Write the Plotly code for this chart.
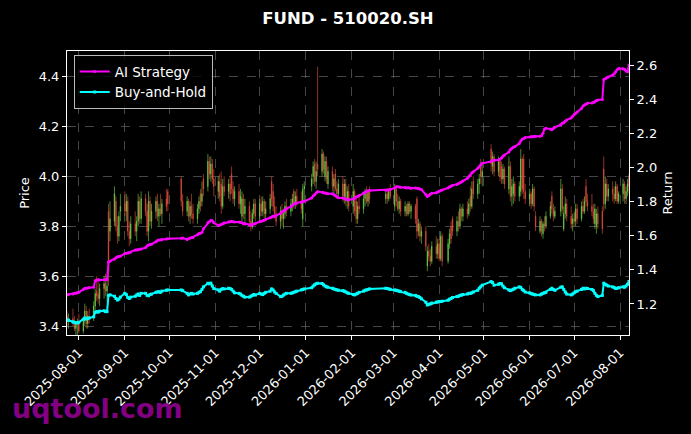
import pandas as pd
import plotly.graph_objects as go

# exchange holidays (no candles on these weekdays)
holidays = [
    "2025-10-01", "2025-10-02", "2025-10-03", "2025-10-06", "2025-10-07", "2025-10-08",
    "2026-01-01", "2026-01-02",
    "2026-02-16", "2026-02-17", "2026-02-18", "2026-02-19", "2026-02-20", "2026-02-23",
    "2026-04-06", "2026-05-01", "2026-05-04", "2026-05-05", "2026-06-19",
]

month_ticks = [
    "2025-08-01", "2025-09-01", "2025-10-01", "2025-11-01", "2025-12-01",
    "2026-01-01", "2026-02-01", "2026-03-01", "2026-04-01", "2026-05-01",
    "2026-06-01", "2026-07-01", "2026-08-01",
]

# daily prices, one line per week
opens = [
    3.44, 3.42,
    3.43, 3.41, 3.39, 3.41, 3.42,
    3.38, 3.42, 3.46, 3.41, 3.44,
    3.43, 3.48, 3.54, 3.53, 3.51,
    3.55, 3.57, 3.54, 3.86, 3.78,
    3.82, 3.90, 3.80, 3.76, 3.86,
    3.89, 3.86, 3.90, 3.78, 3.75,
    3.81, 3.78, 3.82, 3.90, 3.83,
    3.91, 3.86, 3.78, 3.90, 3.82,
    3.86, 3.90, 3.84, 3.87, 3.85,
    3.91, 3.94,
    3.99, 3.90,
    3.86, 3.90, 3.84, 3.88, 3.85,
    3.83, 3.87, 3.93, 3.90, 3.99,
    3.96, 4.06, 4.01, 4.05, 3.99,
    3.94, 3.98, 3.97, 3.88, 3.96,
    3.94, 3.97, 4.01, 3.95, 3.91,
    3.94, 3.89, 3.84, 3.91, 3.85,
    3.88, 3.82, 3.80, 3.85, 3.89,
    3.84, 3.89, 3.86, 3.90, 3.85,
    3.87, 3.98, 3.94, 3.88, 3.85,
    3.82, 3.86, 3.83, 3.85, 3.88,
    3.86, 3.89, 3.94, 3.89, 3.92,
    3.90, 3.83, 3.95,
    3.96, 4.00, 4.05, 3.98, 4.05,
    4.02, 4.09, 4.00, 4.06, 3.97,
    4.02, 3.96, 4.01, 3.95, 3.93,
    3.97, 3.92, 3.97, 3.90, 3.94,
    3.88, 3.94, 3.90, 3.83, 3.88,
    3.87, 3.91, 3.93, 3.90, 3.94,
    3.91, 3.93, 3.91, 3.94,
    3.88, 3.95, 3.90, 3.87, 3.90,
    3.86, 3.88, 3.85, 3.89, 3.86,
    3.88, 3.91, 3.78, 3.81, 3.76,
    3.78, 3.64, 3.70, 3.68, 3.66,
    3.72, 3.69, 3.73, 3.67, 3.76,
    3.66, 3.73, 3.80, 3.83,
    3.78, 3.82, 3.80, 3.87, 3.84,
    3.87, 3.85, 3.92, 3.88, 3.98,
    3.93, 3.97, 4.05, 4.00,
    4.11, 4.04, 4.08,
    4.02, 4.06, 4.04, 3.99, 4.03,
    3.95, 4.04, 3.92, 3.93, 3.97,
    3.92, 3.94, 4.07, 4.07, 3.94,
    3.91, 3.93, 3.89, 3.95, 3.84,
    3.78, 3.82, 3.77, 3.81, 3.80,
    3.84, 3.92, 3.87, 3.84,
    3.86, 3.95, 3.79, 3.85, 3.89,
    3.84, 3.81, 3.83, 3.82, 3.87,
    3.83, 3.88, 3.86, 3.96, 3.90,
    3.88, 3.86, 3.81, 3.80, 3.85,
    3.86, 4.03, 3.89, 3.97, 3.92,
    3.95, 3.93, 3.91, 3.96, 3.90,
    3.93, 3.97, 3.91, 3.94, 4.00,
]
highs = [
    3.46, 3.45,
    3.47, 3.44, 3.42, 3.43, 3.45,
    3.43, 3.49, 3.48, 3.46, 3.47,
    3.50, 3.55, 3.60, 3.59, 3.57,
    3.60, 3.61, 3.58, 3.89, 3.90,
    3.96, 3.92, 3.84, 3.86, 3.93,
    3.94, 3.93, 3.92, 3.82, 3.84,
    3.86, 3.84, 3.93, 3.92, 3.94,
    3.93, 3.89, 3.94, 3.92, 3.89,
    3.92, 3.93, 3.89, 3.93, 3.91,
    3.95, 3.95,
    4.00, 3.93,
    3.92, 3.91, 3.90, 3.93, 3.89,
    3.89, 3.92, 3.95, 3.98, 4.01,
    4.09, 4.08, 4.08, 4.07, 4.03,
    4.00, 4.01, 4.02, 3.99, 4.00,
    3.99, 4.00, 4.04, 3.98, 3.96,
    3.97, 3.95, 3.94, 3.93, 3.91,
    3.90, 3.86, 3.87, 3.91, 3.91,
    3.91, 3.92, 3.92, 3.91, 3.90,
    3.93, 4.00, 3.97, 3.92, 3.88,
    3.88, 3.89, 3.87, 3.90, 3.91,
    3.91, 3.93, 3.95, 3.94, 3.95,
    3.94, 3.97, 3.98,
    4.01, 4.06, 4.07, 4.06, 4.44,
    4.11, 4.10, 4.08, 4.08, 4.04,
    4.04, 4.01, 4.03, 3.98, 3.99,
    4.00, 3.99, 3.99, 3.96, 3.97,
    3.97, 3.95, 3.92, 3.90, 3.92,
    3.93, 3.95, 3.96, 3.95, 3.96,
    3.95, 3.94, 3.95, 3.97,
    3.97, 3.96, 3.93, 3.92, 3.91,
    3.90, 3.89, 3.90, 3.90, 3.89,
    3.89, 3.92, 3.83, 3.82, 3.80,
    3.80, 3.72, 3.73, 3.71, 3.74,
    3.76, 3.75, 3.75, 3.78, 3.77,
    3.75, 3.79, 3.82, 3.84,
    3.84, 3.86, 3.89, 3.88, 3.89,
    3.90, 3.91, 3.96, 3.98, 4.00,
    3.99, 4.01, 4.07, 4.05,
    4.13, 4.10, 4.09,
    4.08, 4.07, 4.06, 4.05, 4.04,
    4.08, 4.06, 3.99, 4.00, 3.98,
    3.98, 4.11, 4.08, 4.09, 3.97,
    3.95, 3.94, 3.97, 3.96, 3.86,
    3.84, 3.83, 3.82, 3.84, 3.86,
    3.90, 3.94, 3.89, 3.88,
    3.99, 3.97, 3.88, 3.92, 3.91,
    3.88, 3.85, 3.86, 3.89, 3.89,
    3.90, 3.91, 3.92, 3.99, 3.93,
    3.93, 3.89, 3.89, 3.87, 3.88,
    3.88, 4.08, 4.00, 3.99, 3.97,
    3.98, 3.96, 3.98, 3.97, 3.94,
    3.99, 3.98, 3.96, 3.99, 4.01,
]
lows = [
    3.40, 3.39,
    3.40, 3.38, 3.36, 3.36, 3.37,
    3.37, 3.40, 3.39, 3.39, 3.41,
    3.42, 3.46, 3.50, 3.49, 3.48,
    3.51, 3.52, 3.50, 3.56, 3.74,
    3.80, 3.78, 3.73, 3.74, 3.82,
    3.84, 3.82, 3.76, 3.72, 3.73,
    3.76, 3.74, 3.80, 3.81, 3.81,
    3.84, 3.76, 3.74, 3.80, 3.79,
    3.83, 3.82, 3.80, 3.84, 3.81,
    3.86, 3.86,
    3.88, 3.84,
    3.84, 3.82, 3.81, 3.83, 3.81,
    3.81, 3.85, 3.86, 3.88, 3.92,
    3.94, 3.99, 3.98, 3.97, 3.92,
    3.91, 3.90, 3.85, 3.87, 3.92,
    3.91, 3.90, 3.93, 3.89, 3.88,
    3.87, 3.85, 3.82, 3.83, 3.81,
    3.80, 3.78, 3.79, 3.83, 3.82,
    3.82, 3.84, 3.84, 3.83, 3.82,
    3.85, 3.88, 3.86, 3.83, 3.80,
    3.79, 3.80, 3.79, 3.83, 3.84,
    3.84, 3.86, 3.87, 3.87, 3.88,
    3.85, 3.80, 3.90,
    3.94, 3.97, 3.96, 3.95, 4.00,
    4.00, 4.01, 3.98, 3.97, 3.95,
    3.94, 3.93, 3.94, 3.91, 3.91,
    3.90, 3.89, 3.88, 3.87, 3.86,
    3.85, 3.84, 3.81, 3.81, 3.85,
    3.85, 3.88, 3.89, 3.88, 3.89,
    3.89, 3.89, 3.90, 3.91,
    3.86, 3.88, 3.86, 3.85, 3.84,
    3.84, 3.84, 3.84, 3.85, 3.83,
    3.81, 3.75, 3.76, 3.74, 3.73,
    3.70, 3.62, 3.66, 3.64, 3.65,
    3.67, 3.67, 3.66, 3.66, 3.64,
    3.65, 3.71, 3.73, 3.76,
    3.76, 3.78, 3.79, 3.82, 3.82,
    3.83, 3.84, 3.86, 3.87, 3.91,
    3.91, 3.93, 3.97, 3.96,
    4.02, 4.01, 4.00,
    4.00, 3.98, 3.97, 3.97, 3.95,
    3.93, 3.90, 3.88, 3.89, 3.90,
    3.90, 3.92, 3.93, 3.91, 3.89,
    3.88, 3.87, 3.88, 3.86, 3.78,
    3.77, 3.76, 3.75, 3.78, 3.79,
    3.83, 3.85, 3.82, 3.83,
    3.84, 3.85, 3.78, 3.83, 3.82,
    3.79, 3.78, 3.80, 3.80, 3.81,
    3.82, 3.85, 3.85, 3.88, 3.86,
    3.84, 3.81, 3.79, 3.77, 3.79,
    3.77, 3.86, 3.87, 3.90, 3.90,
    3.90, 3.89, 3.90, 3.89, 3.89,
    3.90, 3.89, 3.89, 3.92, 3.93,
]
closes = [
    3.42, 3.43,
    3.41, 3.39, 3.41, 3.42, 3.38,
    3.42, 3.46, 3.41, 3.44, 3.43,
    3.48, 3.53, 3.52, 3.51, 3.55,
    3.57, 3.54, 3.56, 3.62, 3.83,
    3.93, 3.80, 3.76, 3.84, 3.88,
    3.86, 3.90, 3.78, 3.75, 3.81,
    3.78, 3.82, 3.90, 3.83, 3.91,
    3.86, 3.78, 3.90, 3.82, 3.86,
    3.90, 3.84, 3.87, 3.85, 3.89,
    3.88, 3.89,
    3.90, 3.86,
    3.90, 3.84, 3.88, 3.85, 3.83,
    3.87, 3.90, 3.88, 3.93, 3.95,
    4.06, 4.01, 4.05, 3.99, 3.96,
    3.98, 3.92, 3.88, 3.96, 3.94,
    3.97, 3.93, 3.95, 3.91, 3.94,
    3.89, 3.92, 3.91, 3.85, 3.88,
    3.82, 3.80, 3.85, 3.89, 3.84,
    3.89, 3.86, 3.90, 3.85, 3.87,
    3.91, 3.91, 3.88, 3.85, 3.82,
    3.86, 3.83, 3.85, 3.88, 3.86,
    3.89, 3.91, 3.89, 3.92, 3.90,
    3.87, 3.95, 3.96,
    3.99, 4.04, 3.98, 4.02, 4.03,
    4.09, 4.03, 4.06, 3.99, 4.02,
    3.96, 3.99, 3.95, 3.93, 3.97,
    3.92, 3.97, 3.90, 3.94, 3.88,
    3.94, 3.86, 3.83, 3.88, 3.87,
    3.91, 3.93, 3.90, 3.94, 3.91,
    3.93, 3.91, 3.94, 3.92,
    3.95, 3.90, 3.87, 3.90, 3.86,
    3.88, 3.85, 3.89, 3.86, 3.88,
    3.83, 3.78, 3.81, 3.76, 3.78,
    3.72, 3.70, 3.68, 3.66, 3.72,
    3.69, 3.73, 3.67, 3.76, 3.66,
    3.73, 3.77, 3.75, 3.78,
    3.82, 3.80, 3.87, 3.84, 3.87,
    3.85, 3.89, 3.88, 3.95, 3.93,
    3.97, 3.99, 4.00, 4.02,
    4.05, 4.08, 4.02,
    4.06, 4.00, 3.99, 4.03, 3.97,
    4.04, 3.92, 3.96, 3.97, 3.92,
    3.96, 4.07, 3.95, 3.94, 3.91,
    3.93, 3.89, 3.95, 3.88, 3.80,
    3.82, 3.78, 3.81, 3.80, 3.84,
    3.88, 3.87, 3.84, 3.86,
    3.95, 3.87, 3.85, 3.89, 3.84,
    3.81, 3.83, 3.82, 3.87, 3.83,
    3.88, 3.86, 3.90, 3.90, 3.88,
    3.86, 3.83, 3.87, 3.85, 3.81,
    3.79, 3.89, 3.97, 3.92, 3.95,
    3.93, 3.91, 3.96, 3.90, 3.93,
    3.97, 3.91, 3.94, 3.97, 3.96,
]

# cumulative return curves
ai_strategy = [
    1.253, 1.255,
    1.258, 1.262, 1.262, 1.265, 1.268,
    1.285, 1.292, 1.292, 1.294, 1.296,
    1.298, 1.336, 1.340, 1.342, 1.340,
    1.341, 1.343, 1.341, 1.446, 1.450,
    1.462, 1.470, 1.476, 1.478, 1.480,
    1.495, 1.497, 1.498, 1.500, 1.505,
    1.516, 1.516, 1.518, 1.520, 1.522,
    1.530, 1.540, 1.546, 1.548, 1.550,
    1.565, 1.572, 1.575, 1.575, 1.578,
    1.580, 1.582,
    1.585, 1.586,
    1.578, 1.582, 1.586, 1.588, 1.590,
    1.605, 1.612, 1.614, 1.618, 1.640,
    1.675, 1.682, 1.690, 1.688, 1.675,
    1.660, 1.662, 1.665, 1.670, 1.675,
    1.680, 1.682, 1.685, 1.682, 1.680,
    1.680, 1.678, 1.675, 1.670, 1.668,
    1.663, 1.663, 1.665, 1.668, 1.670,
    1.682, 1.684, 1.688, 1.690, 1.695,
    1.705, 1.710, 1.715, 1.712, 1.718,
    1.730, 1.740, 1.745, 1.750, 1.758,
    1.770, 1.778, 1.785, 1.790, 1.792,
    1.795, 1.800, 1.802,
    1.820, 1.832, 1.840, 1.850, 1.858,
    1.855, 1.852, 1.850, 1.848, 1.846,
    1.845, 1.840, 1.835, 1.828, 1.822,
    1.820, 1.818, 1.815, 1.812, 1.810,
    1.815, 1.820, 1.826, 1.830, 1.835,
    1.850, 1.855, 1.860, 1.862, 1.865,
    1.866, 1.868, 1.868, 1.870,
    1.880, 1.887, 1.887, 1.885, 1.884,
    1.882, 1.880, 1.882, 1.880, 1.878,
    1.880, 1.878, 1.876, 1.874, 1.870,
    1.840, 1.830, 1.835, 1.842, 1.848,
    1.852, 1.856, 1.860, 1.865, 1.868,
    1.880, 1.887, 1.890, 1.895,
    1.900, 1.905, 1.910, 1.915, 1.920,
    1.935, 1.946, 1.955, 1.968, 1.975,
    1.995, 2.004, 2.015, 2.024,
    2.035, 2.040, 2.042,
    2.044, 2.048, 2.055, 2.065, 2.073,
    2.090, 2.105, 2.112, 2.118, 2.122,
    2.140, 2.155, 2.165, 2.170, 2.175,
    2.178, 2.180, 2.180, 2.181, 2.182,
    2.183, 2.185, 2.200, 2.225, 2.230,
    2.225, 2.220, 2.228, 2.235,
    2.250, 2.258, 2.262, 2.270, 2.278,
    2.290, 2.300, 2.310, 2.318, 2.325,
    2.345, 2.360, 2.366, 2.370, 2.376,
    2.378, 2.380, 2.385, 2.392, 2.395,
    2.398, 2.515, 2.520, 2.525, 2.530,
    2.540, 2.548, 2.560, 2.572, 2.580,
    2.578, 2.575, 2.565, 2.560, 2.600,
]
buy_hold = [
    1.106, 1.104,
    1.095, 1.092, 1.090, 1.089, 1.092,
    1.110, 1.118, 1.112, 1.115, 1.118,
    1.125, 1.150, 1.155, 1.152, 1.158,
    1.160, 1.155, 1.155, 1.250, 1.253,
    1.245, 1.232, 1.223, 1.228, 1.240,
    1.262, 1.255, 1.238, 1.232, 1.240,
    1.245, 1.252, 1.258, 1.250, 1.262,
    1.262, 1.250, 1.248, 1.255, 1.258,
    1.268, 1.270, 1.272, 1.268, 1.275,
    1.280, 1.282,
    1.282, 1.278,
    1.262, 1.253, 1.258, 1.262, 1.258,
    1.262, 1.268, 1.272, 1.285, 1.300,
    1.321, 1.318, 1.322, 1.305, 1.290,
    1.282, 1.275, 1.285, 1.290, 1.288,
    1.292, 1.290, 1.285, 1.275, 1.265,
    1.262, 1.258, 1.250, 1.245, 1.240,
    1.240, 1.245, 1.250, 1.255, 1.252,
    1.262, 1.258, 1.255, 1.262, 1.268,
    1.275, 1.288, 1.282, 1.270, 1.262,
    1.243, 1.245, 1.252, 1.258, 1.262,
    1.262, 1.265, 1.268, 1.272, 1.275,
    1.282, 1.285, 1.288,
    1.295, 1.305, 1.312, 1.318, 1.321,
    1.320, 1.312, 1.305, 1.300, 1.298,
    1.292, 1.288, 1.285, 1.282, 1.280,
    1.278, 1.275, 1.270, 1.265, 1.262,
    1.255, 1.253, 1.258, 1.262, 1.268,
    1.275, 1.280, 1.282, 1.285, 1.288,
    1.292, 1.290, 1.288, 1.285,
    1.282, 1.280, 1.278, 1.275, 1.272,
    1.268, 1.262, 1.258, 1.255, 1.252,
    1.250, 1.245, 1.243, 1.238, 1.230,
    1.210, 1.194, 1.198, 1.200, 1.205,
    1.210, 1.212, 1.214, 1.214, 1.216,
    1.222, 1.228, 1.232, 1.238,
    1.243, 1.245, 1.250, 1.252, 1.255,
    1.258, 1.262, 1.262, 1.265, 1.270,
    1.280, 1.292, 1.300, 1.310,
    1.331, 1.325, 1.310,
    1.315, 1.320, 1.318, 1.305, 1.295,
    1.282, 1.278, 1.282, 1.286, 1.292,
    1.300, 1.296, 1.285, 1.278, 1.270,
    1.265, 1.260, 1.258, 1.255, 1.253,
    1.253, 1.258, 1.262, 1.265, 1.268,
    1.285, 1.292, 1.285, 1.280,
    1.298, 1.300, 1.285, 1.270, 1.258,
    1.253, 1.258, 1.265, 1.272, 1.275,
    1.285, 1.292, 1.288, 1.292, 1.290,
    1.285, 1.278, 1.262, 1.250, 1.243,
    1.250, 1.321, 1.315, 1.310, 1.305,
    1.300, 1.296, 1.290, 1.292, 1.295,
    1.300, 1.298, 1.305, 1.315, 1.331,
]

dates = [d for d in pd.bdate_range("2025-07-24", "2026-08-07")
         if d.strftime("%Y-%m-%d") not in holidays]

UP = "#72dc4e"
DOWN = "#ee5040"
FONT = "DejaVu Sans"

fig = go.Figure()

fig.add_trace(go.Candlestick(
    x=dates, open=opens, high=highs, low=lows, close=closes,
    increasing=dict(line=dict(color=UP, width=0.6), fillcolor=UP),
    decreasing=dict(line=dict(color=DOWN, width=0.6), fillcolor=DOWN),
    whiskerwidth=0, showlegend=False, hoverinfo="skip",
))

fig.add_trace(go.Scatter(
    x=dates, y=ai_strategy, name="AI Strategy", mode="lines+markers",
    line=dict(color="#ff00ff", width=2),
    marker=dict(symbol="circle", size=3, color="#ff00ff"),
    yaxis="y2",
))
fig.add_trace(go.Scatter(
    x=dates, y=buy_hold, name="Buy-and-Hold", mode="lines+markers",
    line=dict(color="#00ffff", width=2),
    marker=dict(symbol="square", size=3, color="#00ffff"),
    yaxis="y2",
))

grid = "rgba(128,128,128,0.55)"

fig.update_layout(
    width=691, height=434,
    margin=dict(l=67, r=62, t=51, b=99),
    paper_bgcolor="black", plot_bgcolor="black",
    boxgap=0.5,
    font=dict(family=FONT, color="white", size=13),
    title=dict(text="<b>FUND - 510020.SH</b>", x=0.5, xref="paper",
               y=1 - 18 / 434, yref="container", yanchor="middle",
               font=dict(size=16.5, color="white", family=FONT)),
    xaxis=dict(
        type="date", range=["2025-07-24", "2026-08-07"],
        tickvals=month_ticks, tickformat="%Y-%m-%d", tickangle=-45,
        ticks="outside", ticklen=4, tickcolor="white",
        showline=True, linecolor="white", linewidth=1, mirror=True,
        showgrid=True, gridcolor=grid, griddash="dash", gridwidth=0.6,
        rangeslider=dict(visible=False), tickfont=dict(size=13),
        zeroline=False,
    ),
    yaxis=dict(
        range=[3.364, 4.503], dtick=0.2, tickformat=".1f",
        title=dict(text="Price", font=dict(size=13), standoff=6),
        ticks="outside", ticklen=4, tickcolor="white",
        showline=True, linecolor="white", linewidth=1, mirror=True,
        showgrid=True, gridcolor=grid, griddash="dash", gridwidth=0.6,
        zeroline=False,
    ),
    yaxis2=dict(
        overlaying="y", side="right",
        range=[1.018, 2.682], dtick=0.2, tickformat=".1f",
        title=dict(text="Return", font=dict(size=13), standoff=6),
        ticks="outside", ticklen=4, tickcolor="white",
        showline=True, linecolor="white", linewidth=1,
        showgrid=False, zeroline=False,
    ),
    legend=dict(
        x=0.012, y=0.985, xanchor="left", yanchor="top",
        bgcolor="rgba(0,0,0,0.8)", bordercolor="#bbbbbb", borderwidth=1,
        font=dict(size=13.5, color="white"), tracegroupgap=0,
    ),
    annotations=[dict(
        text="<b>uqtool.com</b>", xref="paper", yref="paper",
        x=(10 - 67) / 562, y=(335 - 408) / 284,
        xanchor="left", yanchor="middle", showarrow=False,
        font=dict(size=27, color="rgba(140,0,140,0.95)", family=FONT),
    )],
)

# the page's default body margin would shift the figure by 8px
fig.write_html("out.html", config={"displayModeBar": False},
               post_script="document.body.style.margin='0';"
                           "document.body.style.background='black';")
